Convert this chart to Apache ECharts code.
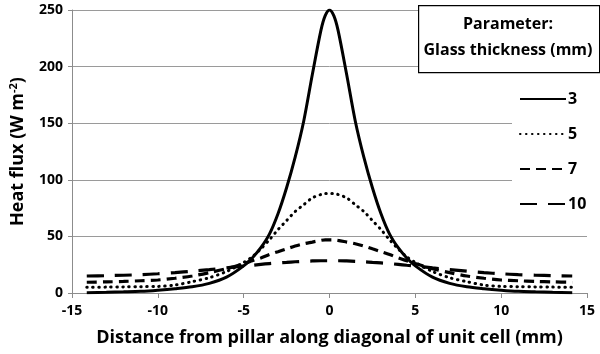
<!DOCTYPE html>
<html><head><meta charset="utf-8">
<script src="https://cdn.jsdelivr.net/npm/echarts@6/dist/echarts.min.js"></script>
<style>html,body{margin:0;padding:0;background:#fff}#c{width:600px;height:354px}</style>
</head><body><div id="c"></div>
<script>
var xs =    [-14.14,-13,-12,-11,-10,-9,-8,-7,-6,-5,-4.5,-4,-3.5,-3,-2.5,-2,-1.5,-1,-0.5,-0.25,0,0.25,0.5,1,1.5,2,2.5,3,3.5,4,4.5,5,6,7,8,9,10,11,12,13,14.14];
var t3 =    [0.3,0.6,1,1.5,2.5,3.8,5.5,8.5,14,24,31,40,52,70,93,120,152,193,232,245,250,245,232,193,152,120,93,70,52,40,31,24,14,8.5,5.5,3.8,2.5,1.5,1,0.6,0.3];
var t5 =    [5,5.2,5.4,5.6,5.8,7,10,13.5,19,27,32,39,47,56,64,72,78,84,87,88,88,88,87,84,78,72,64,56,47,39,32,27,19,13.5,10,7,5.8,5.6,5.4,5.2,5];
var t7 =    [9.5,9.8,10.2,10.8,11.5,13,15,18,21.5,26,28.5,31,34,36.5,39,41.5,43.5,45,46.5,47,47,47,46.5,45,43.5,41.5,39,36.5,34,31,28.5,26,21.5,18,15,13,11.5,10.8,10.2,9.8,9.5];
var t10 =   [15,15.3,15.7,16.2,17,18,19.3,20.7,22.2,23.8,24.5,25.3,26,26.6,27.1,27.6,28,28.3,28.5,28.5,28.5,28.5,28.5,28.3,28,27.6,27.1,26.6,26,25.3,24.5,23.8,22.2,20.7,19.3,18,17,16.2,15.7,15.3,15];
var seriesNames = ['3','5','7','10'];
var xTicks = [-15,-10,-5,0,5,10,15];
var yTicks = [0,50,100,150,200,250];

function pairs(ys){ return xs.map(function(x,i){return [x, ys[i]];}); }
var FONT = 'Open Sans';
var chart = echarts.init(document.getElementById('c'), null, {renderer:'canvas'});
var lineBase = {type:'line', showSymbol:false, symbol:'none', smooth:0.3, animation:false};
chart.setOption({
  animation:false,
  grid:{left:68, right:13, top:10, bottom:61, containLabel:false},
  xAxis:{type:'value', min:xTicks[0], max:xTicks[xTicks.length-1], interval:5,
    axisLine:{show:true, onZero:false, lineStyle:{color:'#8c8c8c', width:1}},
    axisTick:{show:true, length:5, lineStyle:{color:'#8c8c8c'}},
    splitLine:{show:false},
    axisLabel:{color:'#000', fontFamily:FONT, fontWeight:'bold', fontSize:14, margin:11},
    name:'Distance from pillar along diagonal of unit cell (mm)', nameLocation:'middle', nameGap:36,
    nameTextStyle:{color:'#000', fontFamily:FONT, fontWeight:'bold', fontSize:18}
  },
  yAxis:{type:'value', min:yTicks[0], max:yTicks[yTicks.length-1], interval:50,
    axisLine:{show:true, onZero:false, lineStyle:{color:'#8c8c8c', width:1}},
    axisTick:{show:true, length:4, lineStyle:{color:'#8c8c8c'}},
    splitLine:{show:true, lineStyle:{color:'#9a9a9a', width:1}},
    axisLabel:{color:'#000', fontFamily:FONT, fontWeight:'bold', fontSize:14, margin:9},
    name:'Heat flux (W m{sup|-2})', nameLocation:'middle', nameGap:44, nameRotate:90,
    nameTextStyle:{color:'#000', fontFamily:FONT, fontWeight:'bold', fontSize:18,
      rich:{sup:{fontFamily:FONT, fontWeight:'bold', fontSize:11, verticalAlign:'top', padding:[0,0,9,0], color:'#000'}}}
  },
  legend:{show:true, orient:'vertical', left:512, top:86, padding:[5,20,14,7], itemGap:19,
    itemWidth:46, itemHeight:14, backgroundColor:'#fff', align:'left',
    itemStyle:{opacity:0, borderWidth:0},
    textStyle:{color:'#000', fontFamily:FONT, fontWeight:'bold', fontSize:16, padding:[0,0,0,-3]},
    data:seriesNames},
  graphic:[
    {type:'rect', left:418, top:5, z:100, shape:{width:181, height:67}, style:{fill:'#fff', stroke:'#000', lineWidth:1.2}},
    {type:'text', x:508, y:24, z:101, style:{text:'Parameter:', textAlign:'center', textVerticalAlign:'middle', font:'bold 16px "Open Sans"', fill:'#000'}},
    {type:'text', x:508, y:50, z:101, style:{text:'Glass thickness (mm)', textAlign:'center', textVerticalAlign:'middle', font:'bold 16px "Open Sans"', fill:'#000'}}
  ],
  series:[
    Object.assign({}, lineBase, {name:seriesNames[0], data:pairs(t3), lineStyle:{color:'#000', width:3, type:'solid'}, itemStyle:{color:'#000'}}),
    Object.assign({}, lineBase, {name:seriesNames[1], data:pairs(t5), lineStyle:{color:'#000', width:3, type:[0.5,5.5], cap:'round'}, itemStyle:{color:'#000'}}),
    Object.assign({}, lineBase, {name:seriesNames[2], data:pairs(t7), lineStyle:{color:'#000', width:3.2, type:[10,6]}, itemStyle:{color:'#000'}}),
    Object.assign({}, lineBase, {name:seriesNames[3], data:pairs(t10), lineStyle:{color:'#000', width:3.2, type:[17,11]}, itemStyle:{color:'#000'}})
  ]
});
</script></body></html>
